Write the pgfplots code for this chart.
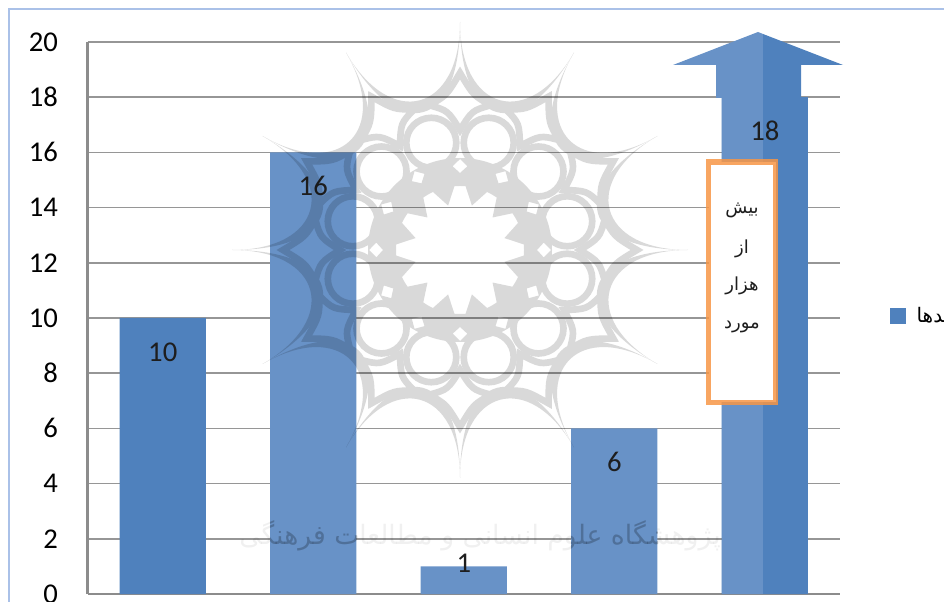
\documentclass[border=0pt]{standalone}
\usepackage{fontspec}
\usepackage{pgfplots}
\pgfplotsset{compat=1.18}
\setmainfont{Carlito}
\newfontfamily\arabicfont[Script=Arabic]{DejaVu Sans}
\TeXXeTstate=1
\definecolor{bardark}{RGB}{79,129,189}
\definecolor{barlight}{RGB}{104,146,199}
\definecolor{gridc}{RGB}{150,150,150}
\definecolor{axisc}{RGB}{140,140,140}
\definecolor{framec}{RGB}{170,193,232}
\definecolor{boxc}{RGB}{247,150,70}
\definecolor{labelc}{RGB}{30,30,30}
\newcommand{\fa}[1]{{\arabicfont\fontsize{13.5}{13.5}\selectfont\beginR #1\endR}}
\newcommand{\wmtext}{\arabicfont\fontsize{20}{20}\selectfont\beginR پژوهشگاه علوم انسانی و مطالعات فرهنگی\endR}
\begin{document}
\begin{tikzpicture}
\path[use as bounding box] (0pt,0pt) rectangle (708pt,451.5pt);
\begin{axis}[
	at={(65.625pt,6pt)},
	anchor=south west,
	scale only axis,
	width=564.4pt,
	height=414pt,
	xmin=0.5,xmax=5.5,
	ymin=0,ymax=20,
	ytick={0,2,...,20},
	xtick=\empty,
	axis x line*=bottom,
	axis y line*=left,
	x axis line style={-,color=axisc,line width=1.9pt},
	y axis line style={-,color=axisc,line width=1.9pt},
	major tick length=0pt,
	ymajorgrids,
	grid style={color=gridc,line width=1.1pt},
	clip=false,
	/pgf/number format/assume math mode=true,
	yticklabel style={font=\fontsize{21.5}{21.5}\selectfont,color=black,inner sep=0pt,anchor=east,xshift=-22pt},
	legend style={at={(1.066,0.504)},anchor=west,draw=none,fill=none,inner sep=0pt,
		legend cell align=left,nodes={inner sep=0pt}},
	legend image code/.code={\fill[bardark] (0pt,-6pt) rectangle (12pt,6pt);},
]
\addplot[ybar,bar shift=0pt,bar width=64.8pt,fill=bardark,draw=none]
	coordinates {(1,10) (5,18)};
\addlegendentry{\hspace*{8pt}{\arabicfont\fontsize{15}{15}\selectfont\beginR ـدها\endR}}
\addplot[ybar,bar shift=0pt,bar width=64.8pt,fill=barlight,draw=none,forget plot]
	coordinates {(2,16) (3,1) (4,6)};
\addplot[ybar,bar shift=-16.8pt,bar width=31pt,fill=barlight,draw=none,forget plot]
	coordinates {(5,18)};
\addplot[only marks,mark=none,forget plot,point meta=y,nodes near coords,
	nodes near coords style={anchor=center,yshift=-25.5pt,font=\fontsize{21.5}{21.5}\selectfont,color=labelc}]
	coordinates {(1,10) (2,16) (4,6) (5,18)};
\addplot[only marks,mark=none,forget plot,point meta=y,nodes near coords,
	nodes near coords style={anchor=center,yshift=2pt,font=\fontsize{21.5}{21.5}\selectfont,color=labelc}]
	coordinates {(3,1)};
\end{axis}
% chart frame
\draw[framec,line width=1.5pt] (6.75pt,0pt) -- (6.75pt,444.75pt) -- (708pt,444.75pt);
\begin{scope}[x=0.75pt,y=0.75pt]
% arrow on the last bar
\fill[barlight] (673,537) -- (758,570) -- (763,568) -- (763,504) -- (716,504) -- (716,537) -- cycle;
\fill[bardark] (763,568) -- (843,537) -- (801,537) -- (801,504) -- (763,504) -- cycle;
% watermark
\begin{scope}[transparency group,opacity=0.15]
\begin{scope}[shift={(460,352)}]
\fill[black,even odd rule] (0,0) circle[radius=92] (0,0) circle[radius=64]
	foreach \a in {0,30,...,330}{ ({\a}:77) -- ({\a+5}:84) -- ({\a}:91) -- ({\a-5}:84) -- cycle };
\foreach \a in {0,30,...,330}{
	\fill[black] ({\a}:228) .. controls ({\a}:138) and ({\a+30}:138) .. ({\a+30}:228)
		.. controls ({\a+30}:121) and ({\a}:121) .. cycle;
	\fill[black] ({\a+5}:64) -- ({\a+15}:46) -- ({\a+25}:64) -- ({\a+15}:72) -- cycle;
	\draw[black,line width=5pt] ({\a+15}:111) circle[radius=25];
	\draw[black,line width=5pt] ({\a}:177) .. controls ({\a+5}:155) .. ({\a+12}:148)
		.. controls ({\a+5}:140) .. ({\a}:120)
		.. controls ({\a-5}:140) .. ({\a-12}:148)
		.. controls ({\a-5}:155) .. cycle;
}
\end{scope}
\end{scope}
% watermark line, faint on the paper, darker on the bars
\node[text=black,text opacity=0.06] at (480,66) {\wmtext};
\begin{scope}
\clip (270,8) rectangle (357,150) (571,8) rectangle (657,150);
\node[text=black,text opacity=0.18] at (480,66) {\wmtext};
\end{scope}
% note box
\filldraw[fill=white,draw=boxc,draw opacity=0.85,line width=3.9pt] (708.5,199.5) rectangle (775.5,440);
\node[text=labelc] at (742,392) {\fa{بیش}};
\node[text=labelc] at (742,353) {\fa{از}};
\node[text=labelc] at (742,316) {\fa{هزار}};
\node[text=labelc] at (742,275) {\fa{مورد}};
\end{scope}
\end{tikzpicture}
\end{document}
